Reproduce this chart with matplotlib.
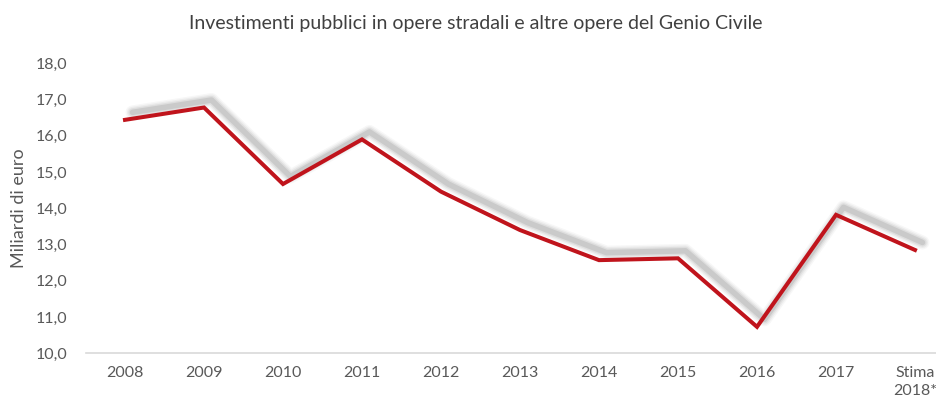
import numpy as np
import matplotlib.pyplot as plt
import matplotlib.transforms as mtransforms

plt.rcParams['font.family'] = ['Lato', 'DejaVu Sans']

years = ['2008', '2009', '2010', '2011', '2012', '2013', '2014', '2015',
         '2016', '2017', 'Stima\n2018*']
values = [16.44, 16.78, 14.67, 15.90, 14.46, 13.40, 12.57, 12.62,
          10.73, 13.82, 12.85]
yticks = [10, 11, 12, 13, 14, 15, 16, 17, 18]

fig = plt.figure(figsize=(9.36, 4.05), dpi=100)
# plot area runs past the right edge, like the cropped original
ax = fig.add_axes([85.5 / 936, 51.7 / 405, 869 / 936, 290 / 405])

x = np.arange(len(values))

# soft grey shadow, offset up-right and faked blur with stacked lines
shadow = mtransforms.offset_copy(ax.transData, fig=fig, x=7.5, y=7.5, units='dots')
for lw, a in [(10, 0.07), (8, 0.10), (6, 0.15), (4, 0.25)]:
    ax.plot(x, values, color='#909090', lw=lw, alpha=a, transform=shadow,
            solid_joinstyle='round', solid_capstyle='round')

ax.plot(x, values, color='#c0141c', lw=2.9, solid_joinstyle='miter')

ax.set_xlim(-0.5, len(values) - 0.5)
ax.set_ylim(10, 18)
ax.set_yticks(yticks)
ax.set_yticklabels([f'{v:.1f}'.replace('.', ',') for v in yticks])
ax.set_xticks(x)
ax.set_xticklabels(years, linespacing=1.35)

for s in ['top', 'right', 'left']:
    ax.spines[s].set_visible(False)
ax.spines['bottom'].set_color('#d9d9d9')
ax.spines['bottom'].set_linewidth(1.2)

ax.tick_params(axis='both', length=0, labelsize=11.5, colors='#595959')
ax.tick_params(axis='y', pad=13)
ax.tick_params(axis='x', pad=9)

ax.set_ylabel('Miliardi di euro', fontsize=13, color='#595959', labelpad=6)
fig.text(476 / 936, 1 - 23 / 405,
         'Investimenti pubblici in opere stradali e altre opere del Genio Civile',
         ha='center', va='center', fontsize=14, color='#404040')

fig.savefig('out.png', dpi=100)
